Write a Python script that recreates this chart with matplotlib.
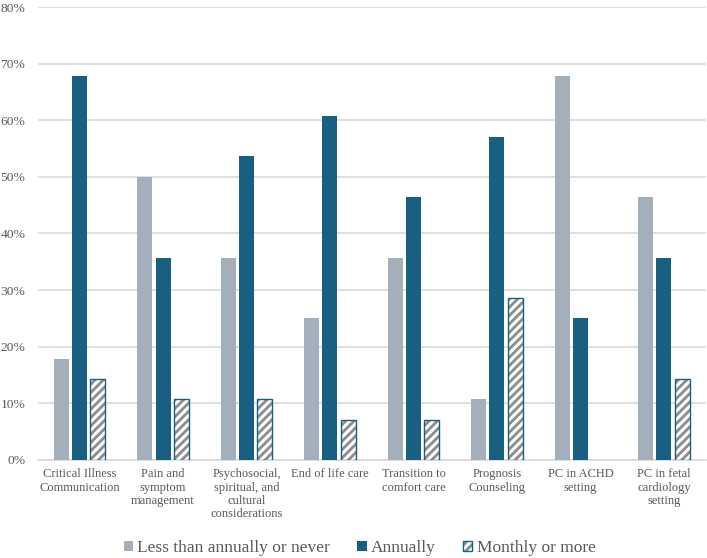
import matplotlib
matplotlib.use("Agg")
import matplotlib.pyplot as plt
import numpy as np

categories = ["Critical Illness\nCommunication", "Pain and\nsymptom\nmanagement",
              "Psychosocial,\nspiritual, and\ncultural\nconsiderations", "End of life care",
              "Transition to\ncomfort care", "Prognosis\nCounseling", "PC in ACHD\nsetting",
              "PC in fetal\ncardiology\nsetting"]
less_than_annually = [17.9, 50.0, 35.7, 25.0, 35.7, 10.7, 67.9, 46.4]
annually = [67.9, 35.7, 53.6, 60.7, 46.4, 57.1, 25.0, 35.7]
monthly = [14.3, 10.7, 10.7, 7.1, 7.1, 28.6, 0.0, 14.3]
yticks = [0, 10, 20, 30, 40, 50, 60, 70, 80]

plt.rcParams['font.family'] = ['Liberation Serif', 'DejaVu Serif']
plt.rcParams['hatch.linewidth'] = 2.0

fig = plt.figure(figsize=(7.07, 5.58), dpi=100)
ax = fig.add_axes([0.0535, 1 - 460 / 558, 0.9445, 453 / 558])

gray = '#A3B0BB'
blue = '#195F82'
hatchgray = '#8C8C8C'
x = np.arange(len(categories))
w = 0.18
gap = 0.04
b1 = ax.bar(x - (w + gap), less_than_annually, w, color=gray, zorder=3)
b2 = ax.bar(x, annually, w, color=blue, zorder=3)
b3h = ax.bar(x + (w + gap), monthly, w, color='white', edgecolor=hatchgray, hatch='////', linewidth=0, zorder=3)
b3e = ax.bar(x + (w + gap), monthly, w, fill=False, edgecolor=blue, linewidth=1.0, zorder=4)
for r, v in zip(b3e, monthly):
    if v == 0:
        r.set_visible(False)

ax.set_xlim(-0.5, len(categories) - 0.5)
ax.set_ylim(0, 80)
ax.set_yticks(yticks)
ax.set_yticklabels([f"{t}%" for t in yticks])
ax.set_xticks(x)
ax.set_xticklabels(categories, linespacing=1.15)
ax.tick_params(axis='y', length=0, labelsize=9.7, colors='#595959', pad=9)
ax.tick_params(axis='x', length=0, labelsize=9, colors='#595959', pad=6)
ax.yaxis.grid(True, color='#D9D9D9', linewidth=1.2, zorder=0)
for s in ['top', 'right', 'left']:
    ax.spines[s].set_visible(False)
ax.spines['bottom'].set_color('#D9D9D9')
ax.spines['bottom'].set_linewidth(1.2)

leg = fig.legend([b1, b2, (b3h, b3e)], ["Less than annually or never", "Annually", "Monthly or more"],
                 loc='center', bbox_to_anchor=(0.5085, 1 - 548 / 558), ncol=3, frameon=False,
                 fontsize=12.5, handlelength=0.55, handleheight=0.55, handletextpad=0.25,
                 columnspacing=1.55, labelcolor='#595959', borderpad=0.1)

fig.savefig("out.png", dpi=100)
